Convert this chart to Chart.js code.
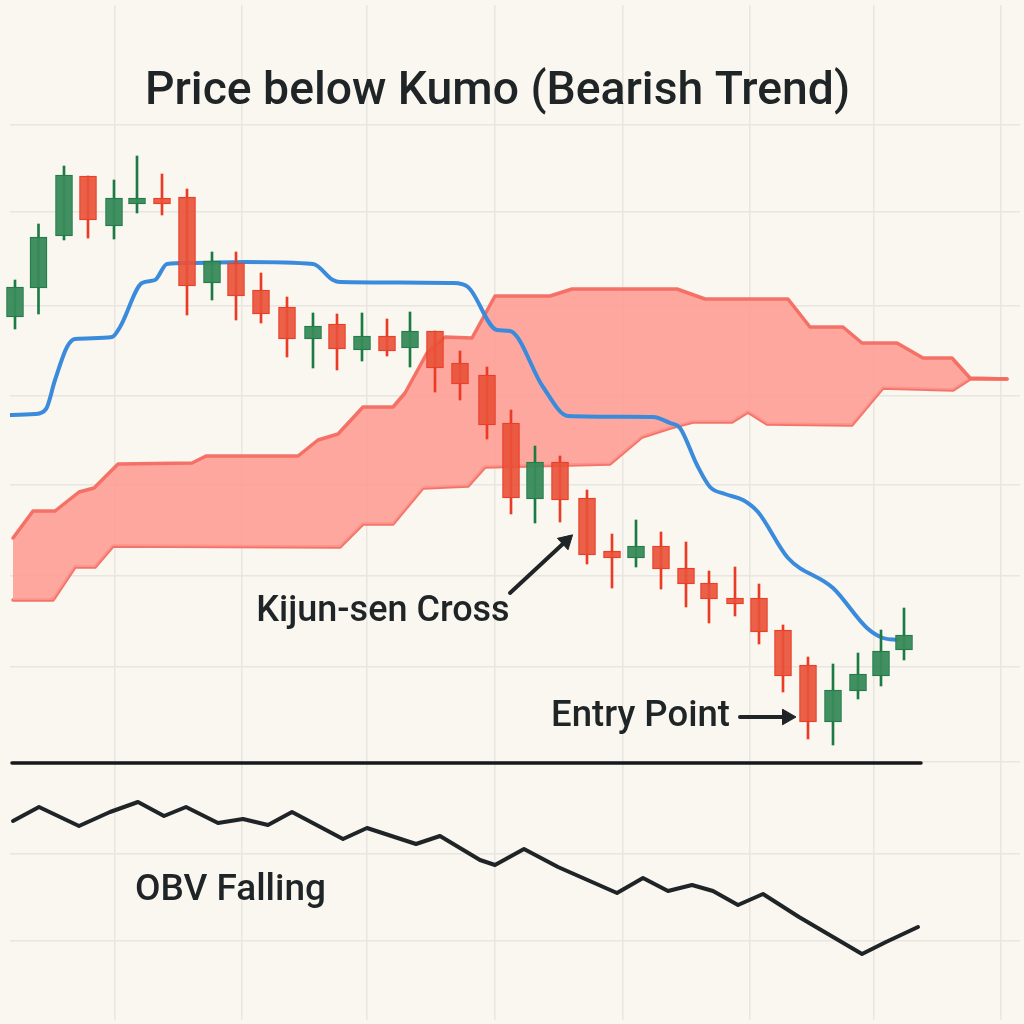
<!DOCTYPE html>
<html>
<head>
<meta charset="utf-8">
<title>Price below Kumo</title>
<script src="https://cdn.jsdelivr.net/npm/chart.js@4"></script>
<style>
  html, body { margin: 0; padding: 0; background: #faf6f0; }
  canvas { display: block; }
</style>
</head>
<body>
<canvas id="chart1" width="1024" height="1024"></canvas>
<script>
// candles
const candleTime = [1.5, 3.85, 6.4, 8.8, 11.4, 13.7, 16.2, 18.7, 21.2, 23.6, 26.1, 28.7, 31.3, 33.7, 36.2, 38.7, 41.0, 43.5, 46.0, 48.7, 51.1, 53.5, 56.0, 58.7, 61.2, 63.6, 66.1, 68.6, 70.9, 73.5, 75.9, 78.3, 80.8, 83.3, 85.8, 88.1, 90.4];
const candleOpen = [70.7, 73.6, 78.8, 84.8, 79.8, 82.0, 82.6, 82.7, 74.1, 76.1, 73.4, 71.7, 68.5, 70.0, 67.4, 68.8, 67.6, 69.3, 66.1, 64.9, 60.1, 52.5, 56.2, 52.6, 47.3, 46.6, 47.8, 45.6, 44.1, 42.6, 42.6, 39.4, 35.9, 30.2, 33.3, 34.8, 37.4];
const candleClose = [73.7, 78.7, 84.9, 80.4, 82.6, 82.6, 82.0, 73.8, 76.3, 72.8, 71.0, 68.5, 69.8, 67.5, 68.8, 67.3, 69.3, 65.6, 64.0, 59.9, 52.6, 56.2, 52.4, 46.9, 46.6, 47.8, 45.5, 44.0, 42.5, 42.0, 39.2, 34.8, 30.2, 33.4, 35.0, 37.3, 38.9];
const candleHigh = [74.4, 80.0, 85.8, 84.8, 84.4, 86.8, 85.0, 83.5, 77.2, 77.2, 75.1, 72.7, 71.1, 71.0, 71.1, 70.5, 71.2, 69.3, 67.3, 65.7, 61.4, 57.8, 56.8, 53.4, 49.0, 50.4, 49.2, 48.2, 45.3, 45.7, 44.0, 39.9, 36.7, 36.0, 37.1, 39.4, 41.6];
const candleLow = [69.5, 71.0, 78.4, 78.6, 78.5, 81.1, 80.9, 70.9, 72.4, 70.4, 70.1, 66.7, 65.6, 65.4, 66.3, 66.8, 65.7, 63.2, 62.4, 58.5, 51.0, 50.1, 50.2, 46.0, 43.6, 45.7, 43.5, 41.7, 40.1, 40.8, 38.0, 33.2, 28.5, 27.9, 32.5, 33.8, 36.4];

// kijun-sen
const kijunTime = [1.0, 3.5, 4.6, 5.5, 6.7, 7.5, 11.2, 12.0, 14.2, 15.5, 16.7, 19.0, 24.5, 31.3, 33.3, 34.0, 45.3, 46.8, 49.7, 51.0, 54.3, 56.8, 65.3, 67.0, 68.0, 69.7, 71.0, 72.5, 74.3, 75.8, 78.8, 83.3, 86.7, 88.3, 89.8];
const kijunValue = [60.9, 61.0, 61.5, 64.4, 67.7, 68.5, 68.7, 69.7, 74.1, 74.4, 76.0, 76.1, 76.2, 76.0, 74.4, 74.2, 74.1, 73.7, 69.4, 69.3, 63.7, 60.8, 60.7, 60.1, 59.6, 55.9, 53.7, 53.0, 52.4, 51.2, 46.6, 43.6, 39.6, 38.6, 38.4];

// kumo edges
const spanUpperTime = [1.3, 3.3, 5.5, 7.9, 9.4, 11.8, 19.2, 20.6, 29.8, 31.8, 33.8, 36.3, 39.3, 40.5, 42.7, 44.5, 47.2, 49.5, 55.0, 57.2, 67.7, 70.5, 78.8, 81.0, 84.3, 86.2, 89.7, 92.3, 95.2, 97.0, 100.7];
const spanUpperValue = [48.6, 51.3, 51.3, 53.2, 53.6, 56.0, 56.1, 56.8, 56.8, 58.4, 59.0, 61.7, 61.7, 63.1, 67.1, 68.7, 68.6, 72.8, 72.8, 73.5, 73.5, 72.5, 72.5, 69.7, 69.7, 68.1, 68.1, 66.6, 66.6, 64.6, 64.5];
const spanLowerTime = [1.3, 5.3, 7.5, 9.5, 11.3, 34.0, 36.3, 39.3, 42.3, 46.8, 48.5, 61.0, 64.2, 67.0, 69.3, 73.2, 74.8, 76.7, 85.2, 88.3, 95.3, 97.0, 100.7];
const spanLowerValue = [42.4, 42.4, 45.7, 45.7, 47.8, 47.7, 50.0, 50.0, 53.6, 53.8, 55.7, 56.0, 58.7, 59.6, 60.2, 60.2, 61.2, 60.0, 59.9, 63.6, 63.4, 64.5, 64.5];

// OBV panel
const obvTime = [1.3, 3.9, 7.9, 11.0, 13.8, 16.4, 18.6, 21.8, 24.3, 26.8, 29.2, 34.3, 36.7, 41.6, 44.0, 48.0, 49.5, 52.4, 55.8, 61.7, 64.3, 66.8, 69.2, 71.3, 73.8, 76.3, 79.9, 86.2, 88.6, 91.8];
const obvValue = [20.3, 21.7, 19.8, 21.2, 22.2, 20.8, 21.7, 20.1, 20.5, 19.9, 21.2, 18.5, 19.6, 18.0, 18.8, 16.4, 15.9, 17.5, 15.7, 13.1, 14.6, 13.3, 13.9, 13.3, 11.9, 13.0, 10.7, 7.0, 8.2, 9.7];
const dividerTime = [1.2, 92.1];
const dividerValue = [26.1, 26.1];

// annotation arrows, tail then head
const kijunArrowTime = [51.0, 56.6];
const kijunArrowValue = [43.1, 48.3];
const entryArrowTime = [74.0, 78.7];
const entryArrowValue = [30.7, 30.7];

// grid and text
const timeTicks = [11.5, 24.2, 36.7, 49.5, 62.3, 75.0, 87.4, 100.1];
const priceTicks = [89.9, 81.2, 71.8, 62.8, 53.9, 44.8, 35.7, 26.2, 17.0, 8.3];
const labelText = ['Price below Kumo (Bearish Trend)', 'Kijun-sen Cross', 'Entry Point', 'OBV Falling'];
const labelTime = [49.75, 38.3, 64.05, 23.05];
const labelValue = [93.2, 41.2, 30.7, 13.3];
const labelSize = [46.3, 36, 36.5, 37];

const INK = '#1f2427';
const UP_BODY = 'rgba(56,138,90,0.95)', UP_EDGE = '#1c7a45';
const DOWN_BODY = 'rgba(233,82,58,0.92)', DOWN_EDGE = '#ea3b24';

const zip = (xs, ys) => xs.map((x, i) => ({ x: x, y: ys[i] }));
const isUp = candleTime.map((t, i) => candleClose[i] > candleOpen[i]);

function lineSet(xs, ys, color, width, order, extra) {
  return Object.assign({
    type: 'line',
    data: zip(xs, ys),
    borderColor: color,
    borderWidth: width,
    pointRadius: 0,
    tension: 0,
    fill: false,
    borderCapStyle: 'round',
    borderJoinStyle: 'round',
    order: order
  }, extra || {});
}

function arrowSet(xs, ys, angle) {
  return lineSet(xs, ys, INK, 4, 1, {
    pointRadius: [0, 9],
    pointStyle: 'triangle',
    pointRotation: angle,
    pointBackgroundColor: INK,
    pointBorderColor: INK,
    pointBorderWidth: 1
  });
}

// text sits on the data scales too
const textPlugin = {
  id: 'textPlugin',
  afterDraw(chart) {
    const ctx = chart.ctx;
    ctx.save();
    ctx.fillStyle = INK;
    ctx.textAlign = 'center';
    ctx.textBaseline = 'middle';
    labelText.forEach((txt, i) => {
      ctx.font = '500 ' + labelSize[i] + 'px Roboto, Inter, sans-serif';
      ctx.fillText(txt, chart.scales.x.getPixelForValue(labelTime[i]), chart.scales.y.getPixelForValue(labelValue[i]));
    });
    ctx.restore();
  }
};

new Chart(document.getElementById('chart1'), {
  data: {
    datasets: [
      lineSet(spanUpperTime, spanUpperValue, 'rgba(243,107,97,0.95)', 3.5, 6, {
        fill: '+1',
        backgroundColor: 'rgba(254,153,143,0.85)'
      }),
      lineSet(spanLowerTime, spanLowerValue, 'rgba(243,107,97,0.95)', 3.5, 6),
      lineSet(kijunTime, kijunValue, '#3a8bdb', 4, 5, { cubicInterpolationMode: 'monotone' }),
      {
        type: 'bar',
        data: zip(candleTime, candleLow.map((l, i) => [l, candleHigh[i]])),
        backgroundColor: isUp.map(u => u ? UP_EDGE : DOWN_EDGE),
        barThickness: 2,
        grouped: false,
        clip: false,
        order: 4
      },
      {
        type: 'bar',
        data: zip(candleTime, candleOpen.map((o, i) => [o, candleClose[i]])),
        backgroundColor: isUp.map(u => u ? UP_BODY : DOWN_BODY),
        borderColor: isUp.map(u => u ? UP_EDGE : DOWN_EDGE),
        borderWidth: 1,
        borderSkipped: false,
        barThickness: 17,
        grouped: false,
        clip: false,
        order: 3
      },
      lineSet(dividerTime, dividerValue, '#15191b', 3.5, 2),
      lineSet(obvTime, obvValue, INK, 4, 2),
      arrowSet(kijunArrowTime, kijunArrowValue, 47),
      arrowSet(entryArrowTime, entryArrowValue, 90)
    ]
  },
  options: {
    responsive: false,
    animation: false,
    layout: { autoPadding: false, padding: { left: 10, right: 4, top: 5, bottom: 4 } },
    plugins: { legend: { display: false }, tooltip: { enabled: false }, title: { display: false } },
    scales: {
      x: {
        type: 'linear',
        offset: false,
        min: 1.0,
        max: 102.0,
        afterBuildTicks: axis => { axis.ticks = timeTicks.map(v => ({ value: v })); },
        ticks: { display: false },
        border: { display: false },
        grid: { color: '#e8e6e0', lineWidth: 1.5, drawTicks: false, offset: false }
      },
      y: {
        type: 'linear',
        min: 0.4,
        max: 101.9,
        afterBuildTicks: axis => { axis.ticks = priceTicks.map(v => ({ value: v })); },
        ticks: { display: false },
        border: { display: false },
        grid: { color: '#e8e6e0', lineWidth: 1.5, drawTicks: false }
      }
    }
  },
  plugins: [textPlugin]
});
</script>
</body>
</html>
